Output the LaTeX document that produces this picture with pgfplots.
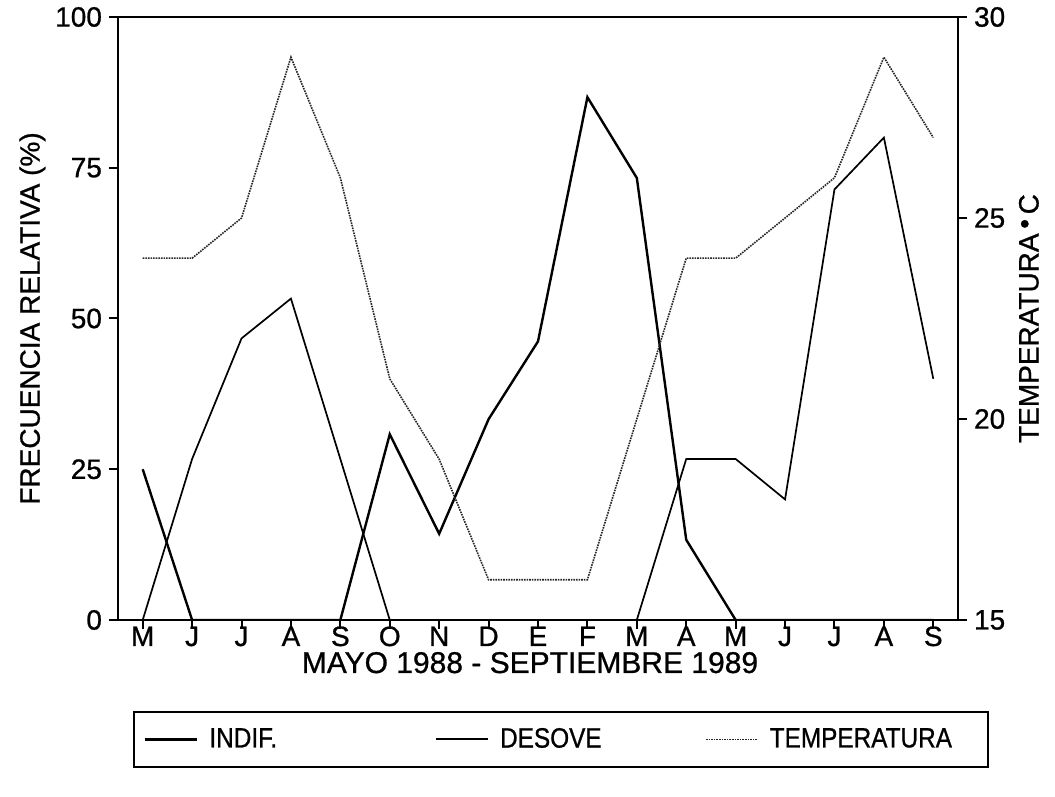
\documentclass[border=0pt]{standalone}
\usepackage{fontspec}
\setmainfont{Liberation Sans}[FakeBold=0.8]
\newfontfamily\narrowfont{Liberation Sans}[FakeStretch=0.87, FakeBold=0.8]
\usepackage{pgfplots}
\pgfplotsset{compat=1.18}
\begin{document}
\begin{tikzpicture}
\pgfplotsset{
  common/.style={
    scale only axis, width=420pt, height=301.5pt,
    xmin=-0.5, xmax=16.5,
    font=\fontsize{14}{16}\selectfont,
    /pgf/number format/assume math mode=true,
    tick align=outside, major tick length=4.5pt,
    every tick/.style={black, line width=1pt},
    axis line style={line width=1.2pt},
  }
}
\begin{axis}[common, name=main,
  ymin=0, ymax=100,
  xtick={0,...,16},
  xticklabels={M,J,J,A,S,O,N,D,E,F,M,A,M,J,J,A,S},
  xtick pos=bottom, ytick pos=left,
  ytick={0,25,50,75,100},
  xlabel={MAYO 1988 - SEPTIEMBRE 1989},
  ylabel={FRECUENCIA RELATIVA (\%)},
  xlabel style={font=\fontsize{15}{17}\selectfont, inner sep=0pt,
    at={(axis description cs:0.5,0)}, anchor=base, xshift=-4pt, yshift=-26.5pt},
  ylabel style={yshift=-2pt},
  xticklabel style={anchor=base, inner sep=0pt, yshift=-8.5pt},
]
\addplot[black, line width=1.2pt] coordinates {
 (0,25) (1,0) (2,0) (3,0) (4,0) (5,30.8) (6,14.3) (7,33.3) (8,46.2)
 (9,86.7) (10,73.3) (11,13.3) (12,0) (13,0) (14,0) (15,0) (16,0)};
\addplot[black, line width=0.85pt] coordinates {
 (0,0) (1,26.7) (2,46.7) (3,53.3) (4,26.7) (5,0) (6,0) (7,0) (8,0)
 (9,0) (10,0) (11,26.7) (12,26.7) (13,20) (14,71.4) (15,80) (16,40)};
\end{axis}
\begin{axis}[common,
  ymin=15, ymax=30,
  axis x line=none, axis y line*=right,
  ytick={15,20,25,30},
  ylabel={TEMPERATURA\,\raisebox{0.3ex}{•}\,C},
  legend columns=3,
  legend style={at={(axis description cs:0.0179,-0.151)}, anchor=north west,
    draw=black, line width=1pt, inner xsep=5pt, inner ysep=6pt,
    font=\narrowfont\fontsize{14}{16}\selectfont,
    nodes={inner xsep=0pt, inner ysep=2pt},
    /tikz/every odd column/.append style={column sep=5.5pt},
    /tikz/every even column/.append style={column sep=0pt}},
  legend image code/.code={\draw[#1] (0pt,0pt) -- (26pt,0pt);},
]
\addlegendimage{black, line width=1.2pt}
\addlegendentry{\makebox[113pt][l]{INDIF.}}
\addlegendimage{black, line width=0.85pt}
\addlegendentry{\makebox[102.5pt][l]{DESOVE}}
\addplot[black!85, line width=0.8pt, dash pattern=on 0.8pt off 0.5pt] coordinates {
 (0,24) (1,24) (2,25) (3,29) (4,26) (5,21) (6,19) (7,16) (8,16)
 (9,16) (10,20) (11,24) (12,24) (13,25) (14,26) (15,29) (16,27)};
\addlegendentry{\makebox[104pt][l]{TEMPERATURA}}
\end{axis}
\pgfresetboundingbox
\path ([shift={(-59pt,-88.5pt)}]main.south west) rectangle ([shift={(468.5pt,310pt)}]main.south west);
\end{tikzpicture}
\end{document}
